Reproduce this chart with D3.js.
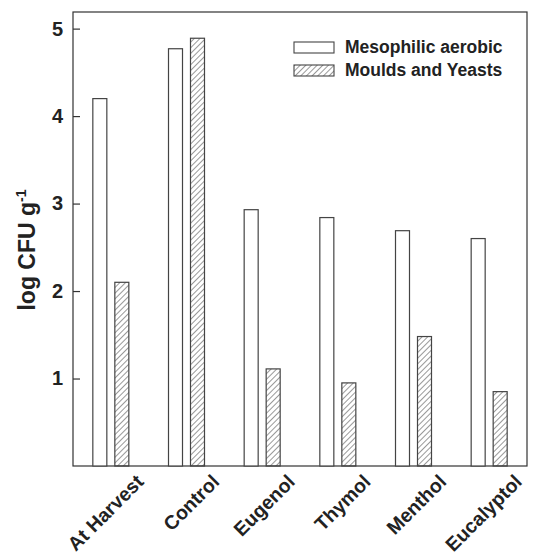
<!DOCTYPE html>
<html>
<head>
<meta charset="utf-8">
<script src="https://cdn.jsdelivr.net/npm/d3@7"></script>
<style>
  body { margin: 0; background: #fff; }
  text { font-family: "Liberation Sans", Arial, sans-serif; font-weight: bold; fill: #222; }
</style>
</head>
<body>
<div id="chart"></div>
<script>
const treatments = ["At Harvest", "Control", "Eugenol", "Thymol", "Menthol", "Eucalyptol"];
const mesophilic = [4.20, 4.77, 2.93, 2.84, 2.69, 2.60];
const moulds = [2.10, 4.89, 1.11, 0.95, 1.48, 0.85];
const yTicks = [1, 2, 3, 4, 5];
const seriesNames = ["Mesophilic aerobic", "Moulds and Yeasts"];

const margin = { top: 12, right: 9, bottom: 90, left: 73 };
const width = 536 - margin.left - margin.right;
const height = 556 - margin.top - margin.bottom;

const svg = d3.select("#chart")
  .append("svg")
  .attr("width", 536)
  .attr("height", 556);

// hatch pattern for moulds
const defs = svg.append("defs");
defs.append("pattern")
  .attr("id", "hatch")
  .attr("patternUnits", "userSpaceOnUse")
  .attr("width", 4)
  .attr("height", 4)
  .attr("patternTransform", "rotate(45)")
  .append("line")
  .attr("x1", 0).attr("y1", 0)
  .attr("x2", 0).attr("y2", 4)
  .attr("stroke", "#333")
  .attr("stroke-width", 1);

const g = svg.append("g")
  .attr("transform", `translate(${margin.left},${margin.top})`);

const x = d3.scaleBand()
  .domain(treatments)
  .range([0, width]);

const y = d3.scaleLinear()
  .domain([0, 5.19])
  .range([height, 0]);

const barW = 14, gap = 8;

// frame
g.append("rect")
  .attr("width", width)
  .attr("height", height)
  .attr("fill", "none")
  .attr("stroke", "#333")
  .attr("stroke-width", 1.2);

// y axis, ticks inward
const yAxis = g.append("g")
  .call(d3.axisLeft(y).tickValues(yTicks).tickSize(-7).tickPadding(10).tickFormat(d3.format("d")));
yAxis.select(".domain").remove();
yAxis.selectAll("line").attr("stroke", "#333").attr("stroke-width", 1.2);
yAxis.selectAll("text")
  .attr("font-size", 20)
  .attr("font-family", "Liberation Sans, Arial, sans-serif")
  .attr("font-weight", "bold")
  .attr("fill", "#222");

// bars
treatments.forEach((t, i) => {
  const cx = x(t) + x.bandwidth() / 2;
  g.append("rect")
    .attr("x", cx - gap / 2 - barW)
    .attr("y", y(mesophilic[i]))
    .attr("width", barW)
    .attr("height", height - y(mesophilic[i]))
    .attr("fill", "#fff")
    .attr("stroke", "#444")
    .attr("stroke-width", 1.2);
  g.append("rect")
    .attr("x", cx + gap / 2)
    .attr("y", y(moulds[i]))
    .attr("width", barW)
    .attr("height", height - y(moulds[i]))
    .attr("fill", "url(#hatch)")
    .attr("stroke", "#444")
    .attr("stroke-width", 1.2);
});

// x labels
treatments.forEach(t => {
  const cx = x(t) + x.bandwidth() / 2;
  g.append("text")
    .attr("transform", `translate(${cx + 34},${height + 17}) rotate(-45)`)
    .attr("text-anchor", "end")
    .attr("font-size", 19.5)
    .text(t);
});

// y label
const yl = svg.append("text")
  .attr("transform", "translate(35,250) rotate(-90)")
  .attr("text-anchor", "middle")
  .attr("font-size", 23);
yl.append("tspan").text("log CFU g");
yl.append("tspan").attr("dy", -9).attr("font-size", 14).text("-1");

// legend
const legend = svg.append("g").attr("transform", "translate(294,42)");
seriesNames.forEach((s, i) => {
  const row = legend.append("g").attr("transform", `translate(0,${i * 23})`);
  row.append("rect")
    .attr("width", 40)
    .attr("height", 11)
    .attr("fill", i === 0 ? "#fff" : "url(#hatch)")
    .attr("stroke", "#444")
    .attr("stroke-width", 1.1);
  row.append("text")
    .attr("x", 51)
    .attr("y", 11)
    .attr("font-size", 17.5)
    .text(s);
});
</script>
</body>
</html>
